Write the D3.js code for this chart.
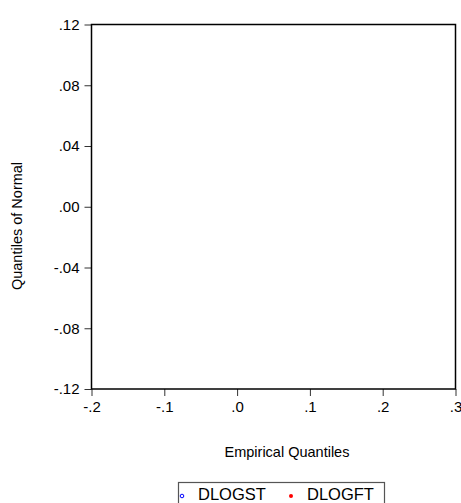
<!DOCTYPE html>
<html>
<head>
<meta charset="utf-8">
<script src="https://cdn.jsdelivr.net/npm/d3@7"></script>
<style>
  body { margin: 0; background: white; }
  svg { display: block; font-family: "Liberation Sans", Arial, sans-serif; }
</style>
</head>
<body>
<div id="chart"></div>
<script>
// data (plot area shows no points in the reference)
var seriesNames = ["DLOGST", "DLOGFT"];
var seriesColors = ["#0000ff", "#ff0000"];
var dlogst = [];   // [empirical, normal] pairs
var dlogft = [];
var xTicks = [-0.2, -0.1, 0.0, 0.1, 0.2, 0.3];
var yTicks = [-0.12, -0.08, -0.04, 0.0, 0.04, 0.08, 0.12];

var svgWidth = 461;
var svgHeight = 503;
var plot = { left: 91.5, right: 455.5, top: 24.5, bottom: 389 };

var svg = d3.select("#chart")
  .append("svg")
  .attr("width", svgWidth)
  .attr("height", svgHeight);

svg.append("rect")
  .attr("width", "100%")
  .attr("height", "100%")
  .attr("fill", "white");

var x = d3.scaleLinear().domain([-0.2, 0.3]).range([plot.left, plot.right]);
var y = d3.scaleLinear().domain([-0.12, 0.12]).range([plot.bottom, plot.top]);

// eviews style: "-.12", ".00"
function trimZero(s) {
  return s.replace("\u2212", "-").replace("0.", ".");
}

// x axis
var xAxis = svg.append("g")
  .attr("transform", `translate(0, ${plot.bottom})`)
  .call(d3.axisBottom(x)
    .tickValues(xTicks)
    .tickSizeOuter(0)
    .tickSize(7)
    .tickPadding(5)
    .tickFormat(d => trimZero(d3.format(".1f")(d))));

// y axis
var yAxis = svg.append("g")
  .attr("transform", `translate(${plot.left}, 0)`)
  .call(d3.axisLeft(y)
    .tickValues(yTicks)
    .tickSizeOuter(0)
    .tickSize(7)
    .tickPadding(5)
    .tickFormat(d => trimZero(d3.format(".2f")(d))));

[xAxis, yAxis].forEach(function(ax) {
  ax.select(".domain").remove();
  ax.selectAll(".tick line").attr("stroke", "#333").attr("stroke-width", 1);
  ax.selectAll(".tick text")
    .attr("fill", "#000")
    .style("font-size", "15px")
    .style("font-family", "'Liberation Sans', Arial, sans-serif");
});

// frame
svg.append("rect")
  .attr("x", plot.left)
  .attr("y", plot.top)
  .attr("width", plot.right - plot.left)
  .attr("height", plot.bottom - plot.top)
  .attr("fill", "none")
  .attr("stroke", "#000")
  .attr("stroke-width", 1.5);

// points
svg.selectAll(".st")
  .data(dlogst)
  .enter()
  .append("circle")
  .attr("cx", d => x(d[0]))
  .attr("cy", d => y(d[1]))
  .attr("r", 2)
  .attr("fill", "none")
  .attr("stroke", seriesColors[0]);

svg.selectAll(".ft")
  .data(dlogft)
  .enter()
  .append("circle")
  .attr("cx", d => x(d[0]))
  .attr("cy", d => y(d[1]))
  .attr("r", 2)
  .attr("fill", seriesColors[1]);

// axis labels
svg.append("text")
  .attr("transform", "translate(22, 226) rotate(-90)")
  .attr("text-anchor", "middle")
  .style("font-size", "14.5px")
  .text("Quantiles of Normal");

svg.append("text")
  .attr("x", 287)
  .attr("y", 457)
  .attr("text-anchor", "middle")
  .style("font-size", "14.5px")
  .text("Empirical Quantiles");

// legend
var legend = svg.append("g");
legend.append("rect")
  .attr("x", 178.5)
  .attr("y", 482.5)
  .attr("width", 206)
  .attr("height", 30)
  .attr("fill", "white")
  .attr("stroke", "#555")
  .attr("stroke-width", 1.2);

var legendX = [182, 291];
seriesNames.forEach(function(name, i) {
  legend.append("circle")
    .attr("cx", legendX[i])
    .attr("cy", 496)
    .attr("r", i === 0 ? 1.8 : 2)
    .attr("fill", i === 0 ? "none" : seriesColors[i])
    .attr("stroke", i === 0 ? seriesColors[i] : "none")
    .attr("stroke-width", 1);
  legend.append("text")
    .attr("x", legendX[i] + 16)
    .attr("y", 500)
    .style("font-size", "16.5px")
    .text(name);
});
</script>
</body>
</html>
